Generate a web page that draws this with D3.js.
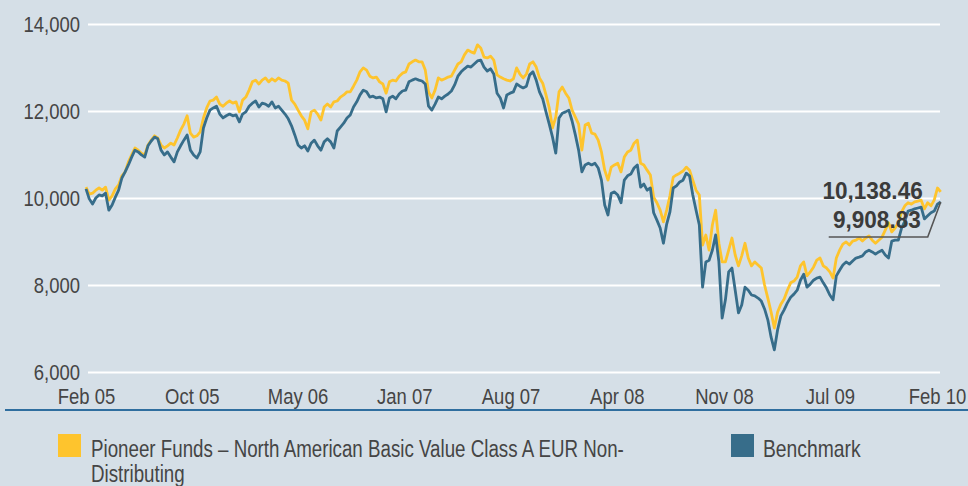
<!DOCTYPE html>
<html>
<head>
<meta charset="utf-8">
<script src="https://cdn.jsdelivr.net/npm/d3@7"></script>
<style>
  body { margin: 0; background: #d5dfe7; }
  svg { display: block; }
  .lbl { font-family: "Liberation Sans", Arial, sans-serif; fill: #454545; }
</style>
</head>
<body>
<svg class="container"></svg>
<script>
// weekly closes, indexed to 10,000 at Feb 05
const startDate = new Date(2005, 1, 1);

const fund = [
  10250, 10090, 10110, 10180, 10230, 10180, 10250, 9950, 10050, 10210,
  10300, 10510, 10600, 10830, 10990, 11150, 11100, 11030, 10990, 11220,
  11330, 11430, 11380, 11220, 11150, 11200, 11260, 11220, 11380, 11560,
  11700, 11890, 11490, 11400, 11430, 11520, 11840, 12070, 12230, 12250,
  12320, 12160, 12110, 12180, 12230, 12180, 12210, 11980, 12250, 12320,
  12480, 12670, 12710, 12620, 12710, 12760, 12670, 12740, 12690, 12760,
  12710, 12690, 12640, 12250, 12160, 12020, 11890, 11790, 11590, 11980,
  12020, 11930, 11790, 12090, 12160, 12090, 12210, 12230, 12320, 12370,
  12440, 12440, 12570, 12710, 12900, 12990, 12940, 12800, 12760, 12780,
  12670, 12620, 12410, 12670, 12710, 12690, 12800, 12870, 12900, 13080,
  13130, 13170, 13130, 13130, 12940, 12440, 12300, 12480, 12760, 12710,
  12740, 12780, 12800, 12940, 13080, 13130, 13290, 13400, 13360, 13330,
  13520, 13450, 13240, 13220, 13260, 13170, 12830, 12780, 12740, 12710,
  12690, 12740, 12990, 12850, 12760, 12850, 13080, 13130, 13010, 12760,
  12640, 12370, 12070, 11610, 11860, 12440, 12550, 12410, 12300, 12020,
  11860, 11700, 11100, 11680, 11720, 11490, 11470, 11330, 11060, 10640,
  10410, 10710, 10760, 10800, 10600, 10940, 11060, 11100, 11260, 11330,
  10800, 10760, 10640, 10530, 10020, 9890, 9720, 9450, 9720, 10050,
  10480, 10530, 10570, 10620, 10710, 10640, 10410, 10180, 10070, 8920,
  9150, 8800, 9380, 9720, 8960, 8530, 8530, 8800, 9080, 8690,
  8440, 8670, 8960, 8620, 8440, 8530, 8460, 8390, 8000, 7700,
  7380, 7010, 7380, 7560, 7680, 7880, 8050, 8090, 8180, 8440,
  8530, 8210, 8300, 8410, 8570, 8620, 8440, 8390, 8300, 8160,
  8620, 8800, 8940, 8990, 8920, 9010, 9030, 9080, 9010, 9080,
  9130, 9030, 8960, 9030, 9100, 9260, 9430, 9220, 9310, 9430,
  9680, 9820, 9890, 9860, 9910, 9930, 9950, 9750, 9890, 9820,
  9950, 10230, 10138.46
];

const benchmark = [
  10210, 9980, 9860, 10000, 10070, 10050, 10110, 9720, 9840, 10020,
  10180, 10460, 10600, 10760, 10940, 11100, 11060, 10990, 10940, 11200,
  11310, 11400, 11360, 11100, 10990, 11060, 10940, 10830, 11060, 11200,
  11330, 11450, 11100, 10990, 10920, 11060, 11610, 11840, 12020, 12070,
  12110, 11930, 11840, 11890, 11930, 11890, 11910, 11750, 11930, 11980,
  12110, 12180, 12230, 12090, 12180, 12160, 12110, 12210, 12070, 12110,
  12020, 11930, 11820, 11660, 11450, 11220, 11150, 11200, 11080, 11260,
  11330, 11200, 11100, 11290, 11360, 11290, 11150, 11540, 11630, 11720,
  11840, 11910, 12090, 12210, 12370, 12480, 12440, 12320, 12340, 12300,
  12320, 12280, 11980, 12300, 12340, 12280, 12390, 12460, 12480, 12670,
  12710, 12740, 12710, 12690, 12620, 12110, 12020, 12160, 12320, 12280,
  12340, 12390, 12460, 12600, 12800, 12900, 12970, 13030, 13010, 13080,
  13150, 13170, 13010, 12920, 12970, 12850, 12410, 12300, 12070, 12370,
  12410, 12440, 12620, 12570, 12530, 12570, 12830, 12900, 12710, 12440,
  12280, 11980, 11700, 11400, 11030, 11840, 11950, 11980, 12020, 11770,
  11450, 11100, 10600, 10760, 10800, 10760, 10800, 10690, 10410, 9840,
  9610, 10110, 10140, 10070, 9890, 10410, 10510, 10550, 10690, 10760,
  10250, 10320, 10180, 10230, 9660, 9490, 9310, 8960, 9400, 9680,
  10230, 10280, 10370, 10410, 10570, 10510, 10070, 9720, 9380, 7950,
  8530, 8570, 8800, 9150, 8530, 7240, 7660, 8300, 8390, 7880,
  7360, 7540, 7950, 7880, 7770, 7750, 7700, 7630, 7450, 7200,
  6800, 6510, 6970, 7290, 7430, 7590, 7720, 7790, 7880, 8110,
  8250, 7950, 8020, 8110, 8160, 8180, 8050, 7930, 7770, 7660,
  8210, 8340, 8460, 8530, 8480, 8550, 8620, 8640, 8670, 8760,
  8800, 8760, 8710, 8760, 8800, 8690, 8620, 9010, 9030, 9030,
  9310, 9470, 9700, 9720, 9750, 9770, 9790, 9520, 9590, 9660,
  9700, 9860, 9908.83
];

const yTicks = [6000, 8000, 10000, 12000, 14000];
const xTickDates = ['2005-02-01', '2005-09-16', '2006-05-01', '2006-12-16', '2007-08-01',
  '2008-03-16', '2008-11-01', '2009-06-16', '2010-02-01'];
const xTickLabels = ['Feb 05', 'Oct 05', 'May 06', 'Jan 07', 'Aug 07', 'Apr 08', 'Nov 08', 'Jul 09', 'Feb 10'];
const seriesNames = ['Pioneer Funds \u2013 North American Basic Value Class A EUR Non-', 'Distributing'];
const benchName = 'Benchmark';

const colors = { fund: '#fec42d', bench: '#376d8a' };

const w = 968, h = 486;
const plot = { left: 88, right: 940, top: 24, bottom: 372 };
const squeeze = 0.84; // condensed look for the labels

const parse = d3.timeParse('%Y-%m-%d');
const dates = fund.map((d, i) => d3.timeDay.offset(startDate, i * 7));

const xScale = d3.scaleTime()
  .domain([parse('2005-02-01'), parse('2010-02-01')])
  .range([86, 937]);
const yScale = d3.scaleLinear().domain([6000, 14000]).range([plot.bottom, plot.top]);

const svg = d3.select('.container').attr('width', w).attr('height', h);

svg.append('rect').attr('width', w).attr('height', h).attr('fill', '#d5dfe7');

// y axis + gridlines
const yAxis = svg.append('g')
  .attr('transform', `translate(${plot.left},0)`)
  .call(d3.axisLeft(yScale).tickValues(yTicks).tickFormat(d3.format(','))
    .tickSize(-(plot.right - plot.left)).tickPadding(9.5));
yAxis.select('.domain').remove();
yAxis.selectAll('line').attr('stroke', '#ffffff').attr('stroke-width', 2);
yAxis.selectAll('text').attr('class', 'lbl').attr('font-size', 22).attr('dy', '0.34em')
  .attr('transform', `scale(${squeeze},1)`);

// x axis labels
const xAxis = svg.append('g')
  .attr('transform', `translate(0,${plot.bottom})`)
  .call(d3.axisBottom(xScale).tickValues(xTickDates.map(parse))
    .tickFormat((d, i) => xTickLabels[i]).tickSize(0).tickPadding(16.5));
xAxis.select('.domain').remove();
xAxis.selectAll('text').attr('class', 'lbl').attr('font-size', 22)
  .attr('transform', `scale(${squeeze},1)`);

// bottom rule
svg.append('line')
  .attr('x1', 5).attr('x2', w).attr('y1', 410).attr('y2', 410)
  .attr('stroke', '#2f6e9f').attr('stroke-width', 2);

const lineGen = d3.line()
  .x((d, i) => xScale(dates[i]))
  .y(d => yScale(d));

svg.append('path').datum(fund)
  .attr('d', lineGen)
  .attr('fill', 'none').attr('stroke', colors.fund)
  .attr('stroke-width', 2.8).attr('stroke-linejoin', 'round');

svg.append('path').datum(benchmark)
  .attr('d', lineGen)
  .attr('fill', 'none').attr('stroke', colors.bench)
  .attr('stroke-width', 2.8).attr('stroke-linejoin', 'round');

// end values
const last = fund.length - 1;
const endX = xScale(dates[last]);
const fmt = d3.format(',.2f');

svg.append('path')
  .attr('d', `M${endX - 112},237 H${endX - 13} L${endX},${yScale(benchmark[last])}`)
  .attr('fill', 'none').attr('stroke', '#555').attr('stroke-width', 1.6);

[[fund[last], 199, 18], [benchmark[last], 228, 20]].forEach(([v, by, off]) => {
  svg.append('text').attr('class', 'lbl')
    .attr('transform', `translate(${endX - off},${by}) scale(0.94,1)`)
    .attr('text-anchor', 'end').attr('font-size', 24).attr('font-weight', 'bold')
    .style('fill', '#3b3b3b')
    .text(fmt(v));
});

// legend
svg.append('rect').attr('x', 58).attr('y', 434).attr('width', 23).attr('height', 23).attr('fill', colors.fund);
svg.append('text').attr('class', 'lbl').attr('font-size', 23)
  .attr('transform', `translate(91,457) scale(0.815,1)`)
  .selectAll('tspan').data(seriesNames).join('tspan')
  .attr('x', 0).attr('y', (d, i) => i * 25)
  .text(d => d);

svg.append('rect').attr('x', 731).attr('y', 434).attr('width', 23).attr('height', 23).attr('fill', colors.bench);
svg.append('text').attr('class', 'lbl').attr('font-size', 23)
  .attr('transform', `translate(763,457) scale(0.84,1)`)
  .text(benchName);
</script>
</body>
</html>
